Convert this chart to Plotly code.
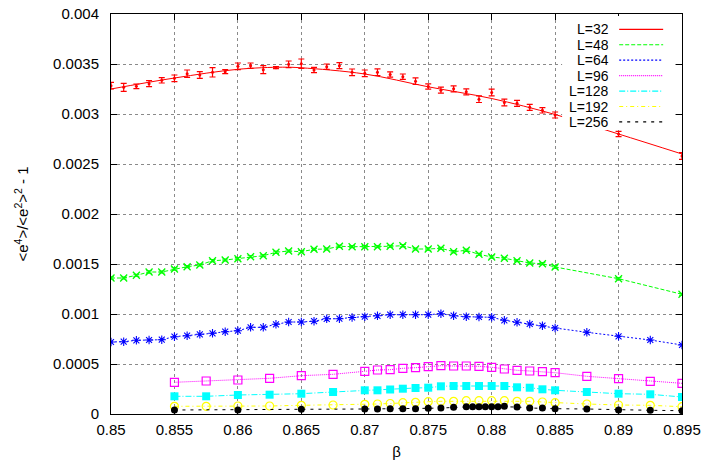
import plotly.graph_objects as go

# ---- data -------------------------------------------------------------
beta_L32 = [0.850, 0.851, 0.852, 0.853, 0.854, 0.855, 0.856, 0.857, 0.858, 0.859,
            0.860, 0.861, 0.862, 0.863, 0.864, 0.865, 0.866, 0.867, 0.868, 0.869,
            0.870, 0.871, 0.872, 0.873, 0.874, 0.875, 0.876, 0.877, 0.878, 0.879,
            0.880, 0.881, 0.882, 0.883, 0.884, 0.885, 0.890, 0.895]
ratio_L32 = [0.003283, 0.003267, 0.003277, 0.003303, 0.003337, 0.003357, 0.003403, 0.003390,
             0.003417, 0.003423, 0.003477, 0.003483, 0.003443, 0.003463, 0.003497, 0.003503,
             0.003440, 0.003473, 0.003483, 0.003417, 0.003407, 0.003418, 0.003395, 0.003373,
             0.003328, 0.003275, 0.003238, 0.003252, 0.003222, 0.003148, 0.003215, 0.003115,
             0.003107, 0.003067, 0.003037, 0.002990, 0.002800, 0.002580]
err_L32 = [0.000033, 0.000040, 0.000023, 0.000030, 0.000027, 0.000033, 0.000037, 0.000033,
           0.000047, 0.000020, 0.000033, 0.000027, 0.000040, 0.000010, 0.000033, 0.000047,
           0.000027, 0.000027, 0.000030, 0.000033, 0.000033, 0.000033, 0.000027, 0.000027,
           0.000033, 0.000027, 0.000030, 0.000030, 0.000030, 0.000033, 0.000033, 0.000033,
           0.000030, 0.000030, 0.000027, 0.000030, 0.000027, 0.000033]
# smooth curve through the L=32 data
fit_beta_L32 = [0.850, 0.855, 0.860, 0.8635, 0.865, 0.870, 0.875, 0.880, 0.885, 0.890, 0.895]
fit_ratio_L32 = [0.003250, 0.003360, 0.003447, 0.003468, 0.003462, 0.003400, 0.003272,
                 0.003155, 0.002995, 0.002800, 0.002600]

beta_L48 = beta_L32
ratio_L48 = [0.001360, 0.001360, 0.001387, 0.001420, 0.001420, 0.001450, 0.001473, 0.001490,
             0.001533, 0.001540, 0.001553, 0.001573, 0.001583, 0.001617, 0.001630, 0.001623,
             0.001647, 0.001650, 0.001677, 0.001673, 0.001673, 0.001673, 0.001677, 0.001683,
             0.001650, 0.001650, 0.001657, 0.001623, 0.001637, 0.001597, 0.001570, 0.001557,
             0.001533, 0.001510, 0.001503, 0.001470, 0.001353, 0.001197]
err_L48 = [0.000012, 0.000010, 0.000010, 0.000012, 0.000010, 0.000012, 0.000010, 0.000010,
           0.000012, 0.000010, 0.000012, 0.000010, 0.000010, 0.000012, 0.000010, 0.000012,
           0.000010, 0.000010, 0.000012, 0.000010, 0.000012, 0.000010, 0.000010, 0.000012,
           0.000010, 0.000012, 0.000010, 0.000012, 0.000012, 0.000010, 0.000012, 0.000010,
           0.000010, 0.000010, 0.000010, 0.000012, 0.000010, 0.000010]

beta_L64 = [0.850, 0.851, 0.852, 0.853, 0.854, 0.855, 0.856, 0.857, 0.858, 0.859,
            0.860, 0.861, 0.862, 0.863, 0.864, 0.865, 0.866, 0.867, 0.868, 0.869,
            0.870, 0.871, 0.872, 0.873, 0.874, 0.875, 0.876, 0.877, 0.878, 0.879,
            0.880, 0.881, 0.882, 0.883, 0.884, 0.885, 0.8875, 0.890, 0.8925, 0.895]
ratio_L64 = [0.000720, 0.000723, 0.000737, 0.000740, 0.000743, 0.000773, 0.000783, 0.000797,
             0.000807, 0.000823, 0.000833, 0.000867, 0.000867, 0.000897, 0.000920, 0.000920,
             0.000928, 0.000952, 0.000953, 0.000965, 0.000973, 0.000982, 0.000993, 0.000993,
             0.000993, 0.000993, 0.001003, 0.000983, 0.000973, 0.000970, 0.000967, 0.000937,
             0.000917, 0.000900, 0.000883, 0.000860, 0.000817, 0.000777, 0.000740, 0.000690]

beta_L96 = [0.855, 0.8575, 0.860, 0.8625, 0.865, 0.8675, 0.870, 0.871, 0.872, 0.873,
            0.874, 0.875, 0.876, 0.877, 0.878, 0.879, 0.880, 0.881, 0.882, 0.883,
            0.884, 0.885, 0.8875, 0.890, 0.8925, 0.895]
ratio_L96 = [0.000317, 0.000330, 0.000340, 0.000357, 0.000383, 0.000397, 0.000427, 0.000440,
             0.000443, 0.000457, 0.000463, 0.000473, 0.000483, 0.000480, 0.000480, 0.000477,
             0.000467, 0.000450, 0.000437, 0.000430, 0.000423, 0.000413, 0.000377, 0.000353,
             0.000327, 0.000307]

beta_L128 = beta_L96
ratio_L128 = [0.000177, 0.000177, 0.000190, 0.000193, 0.000203, 0.000220, 0.000237, 0.000237,
              0.000245, 0.000253, 0.000260, 0.000263, 0.000277, 0.000280, 0.000280, 0.000280,
              0.000280, 0.000280, 0.000267, 0.000263, 0.000247, 0.000237, 0.000220, 0.000203,
              0.000197, 0.000170]

beta_L192 = beta_L96
ratio_L192 = [0.000077, 0.000077, 0.000080, 0.000080, 0.000087, 0.000090, 0.000097, 0.000100,
              0.000105, 0.000113, 0.000117, 0.000123, 0.000127, 0.000127, 0.000133, 0.000133,
              0.000133, 0.000133, 0.000127, 0.000127, 0.000120, 0.000113, 0.000100, 0.000090,
              0.000087, 0.000073]

beta_L256 = [0.855, 0.860, 0.865, 0.870, 0.871, 0.872, 0.873, 0.874, 0.875, 0.876,
             0.877, 0.878, 0.8785, 0.879, 0.8795, 0.880, 0.8805, 0.881, 0.882, 0.883,
             0.884, 0.885, 0.8875, 0.890, 0.8925, 0.895]
ratio_L256 = [0.000040, 0.000040, 0.000047, 0.000050, 0.000050, 0.000052, 0.000053, 0.000053,
              0.000057, 0.000060, 0.000067, 0.000073, 0.000073, 0.000073, 0.000073, 0.000073,
              0.000073, 0.000077, 0.000070, 0.000060, 0.000060, 0.000053, 0.000050, 0.000040,
              0.000037, 0.000033]

legend_labels = ["L=32", "L=48", "L=64", "L=96", "L=128", "L=192", "L=256"]

x_tick_vals = [0.85, 0.855, 0.86, 0.865, 0.87, 0.875, 0.88, 0.885, 0.89, 0.895]
x_tick_text = ["0.85", "0.855", "0.86", "0.865", "0.87", "0.875", "0.88", "0.885", "0.89", "0.895"]
y_tick_vals = [0, 0.0005, 0.001, 0.0015, 0.002, 0.0025, 0.003, 0.0035, 0.004]
y_tick_text = ["0", "0.0005", "0.001", "0.0015", "0.002", "0.0025", "0.003", "0.0035", "0.004"]

# ---- styles -----------------------------------------------------------
RED, GREEN, BLUE = "#ff0000", "#00ff00", "#0000ff"
MAGENTA, CYAN, YELLOW, BLACK = "#ff00ff", "#00ffff", "#ffff00", "#000000"
dashes = ["solid", "4px,2px", "2px,2px", "1px,1px", "6px,2px,1px,2px", "4px,3px,1px,3px", "3px,5px"]
colors = [RED, GREEN, BLUE, MAGENTA, CYAN, YELLOW, BLACK]
FONT = "Liberation Sans, Arial, sans-serif"
FS = 15

fig = go.Figure()

# L=32: smooth curve plus points with error bars
fig.add_trace(go.Scatter(x=fit_beta_L32, y=fit_ratio_L32, mode="lines",
                         line=dict(color=RED, width=1, shape="spline", smoothing=1.0),
                         showlegend=False))
fig.add_trace(go.Scatter(x=beta_L32, y=ratio_L32, mode="markers",
                         marker=dict(color=RED, size=3, symbol="circle"),
                         error_y=dict(type="data", array=err_L32, color=RED, thickness=1.2, width=3),
                         showlegend=False))

fig.add_trace(go.Scatter(x=beta_L48, y=ratio_L48, mode="lines+markers",
                         line=dict(color=GREEN, width=1, dash=dashes[1]),
                         marker=dict(color=GREEN, size=7, symbol="x-thin-open",
                                     line=dict(color=GREEN, width=1.3)),
                         error_y=dict(type="data", array=err_L48, color=GREEN, thickness=1, width=3),
                         showlegend=False))

fig.add_trace(go.Scatter(x=beta_L64, y=ratio_L64, mode="lines+markers",
                         line=dict(color=BLUE, width=1, dash=dashes[2]),
                         marker=dict(color=BLUE, size=7, symbol="asterisk-open",
                                     line=dict(color=BLUE, width=1.1)),
                         showlegend=False))

fig.add_trace(go.Scatter(x=beta_L96, y=ratio_L96, mode="lines+markers",
                         line=dict(color=MAGENTA, width=1, dash=dashes[3]),
                         marker=dict(color=MAGENTA, size=8, symbol="square-open",
                                     line=dict(color=MAGENTA, width=1.2)),
                         showlegend=False))

fig.add_trace(go.Scatter(x=beta_L128, y=ratio_L128, mode="lines+markers",
                         line=dict(color=CYAN, width=1, dash=dashes[4]),
                         marker=dict(color=CYAN, size=8, symbol="square"),
                         showlegend=False))

fig.add_trace(go.Scatter(x=beta_L192, y=ratio_L192, mode="lines+markers",
                         line=dict(color=YELLOW, width=1, dash=dashes[5]),
                         marker=dict(color=YELLOW, size=8, symbol="circle-open",
                                     line=dict(color=YELLOW, width=1.2)),
                         showlegend=False))

fig.add_trace(go.Scatter(x=beta_L256, y=ratio_L256, mode="lines+markers",
                         line=dict(color=BLACK, width=1, dash=dashes[6]),
                         marker=dict(color=BLACK, size=7, symbol="circle"),
                         showlegend=False))

# ---- key: text right-aligned, line sample to its right ---------------
shapes = [dict(type="rect", xref="paper", yref="paper", x0=0.79, x1=0.984, y0=0.71, y1=0.995,
               fillcolor="white", line=dict(width=0), layer="above")]
annotations = []
row_y0, row_step = 0.9617, 0.0386
for i, (lab, col, dsh) in enumerate(zip(legend_labels, colors, dashes)):
    yy = row_y0 - i * row_step
    shapes.append(dict(type="line", xref="paper", yref="paper", x0=0.890, x1=0.967, y0=yy, y1=yy,
                       line=dict(color=col, width=1.2, dash=dsh), layer="above"))
    annotations.append(dict(xref="paper", yref="paper", x=0.874, y=yy, text=lab, showarrow=False,
                            xanchor="right", yanchor="middle", height=14, borderpad=0,
                            font=dict(family=FONT, size=14, color="black")))

axis_common = dict(showline=True, linecolor="black", linewidth=1, mirror="ticks",
                   ticks="inside", ticklen=6, tickcolor="black", zeroline=False,
                   showgrid=True, gridcolor="#8a8a8a", griddash="dot", gridwidth=1,
                   automargin=False,
                   tickfont=dict(family=FONT, size=FS, color="black"))

fig.update_layout(
    width=706, height=460,
    margin=dict(l=111, r=24, t=14, b=46),
    paper_bgcolor="white", plot_bgcolor="white",
    font=dict(family=FONT, size=FS, color="black"),
    xaxis=dict(range=[0.85, 0.895], tickvals=x_tick_vals, ticktext=x_tick_text,
               title=dict(text="β", font=dict(family=FONT, size=FS), standoff=12),
               ticklabelstandoff=2, **axis_common),
    yaxis=dict(range=[0, 0.004], tickvals=y_tick_vals, ticktext=y_tick_text,
               title=dict(text="&lt;e<sup>4</sup>&gt;/&lt;e<sup>2</sup>&gt;<sup>2</sup> - 1",
                          font=dict(family=FONT, size=FS), standoff=20),
               ticklabelstandoff=8, **axis_common),
    shapes=shapes, annotations=annotations,
    showlegend=False,
)

fig.write_html("out.html")
